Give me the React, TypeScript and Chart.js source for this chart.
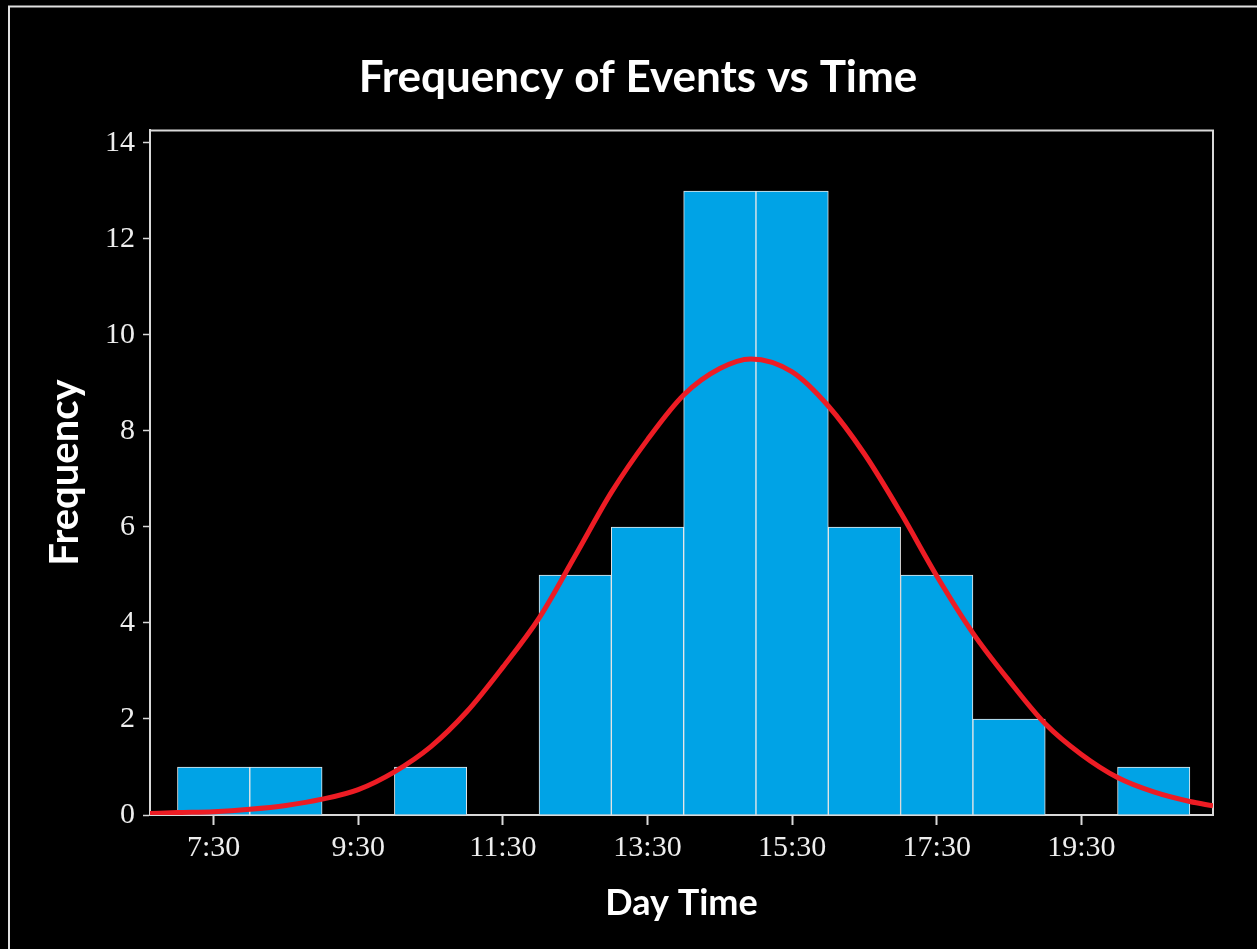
import React, { useEffect, useRef } from 'react';
import { Chart, registerables } from 'chart.js';

Chart.register(...registerables);

// Histogram bins (hour centres) and counts
const binCenters = [7.5, 8.5, 9.5, 10.5, 11.5, 12.5, 13.5, 14.5, 15.5, 16.5, 17.5, 18.5, 19.5, 20.5];
const binCounts = [1, 1, 0, 1, 0, 5, 6, 13, 13, 6, 5, 2, 0, 1];

// Fitted curve
const curveHours = [6.62, 7.0, 7.5, 8.0, 8.5, 9.0, 9.5, 10.0, 10.5, 11.0, 11.5, 12.0, 12.5, 13.0, 13.5, 14.0, 14.5, 14.93, 15.5, 16.0, 16.5, 17.0, 17.5, 18.0, 18.5, 19.0, 19.5, 20.0, 20.5, 21.0, 21.32];
const curveValues = [0.03, 0.05, 0.07, 0.12, 0.2, 0.33, 0.53, 0.9, 1.42, 2.15, 3.08, 4.1, 5.4, 6.72, 7.82, 8.75, 9.3, 9.5, 9.23, 8.52, 7.52, 6.3, 4.98, 3.79, 2.8, 1.9, 1.26, 0.78, 0.48, 0.28, 0.19];

// Axis ticks
const xTickValues = [7.5, 9.5, 11.5, 13.5, 15.5, 17.5, 19.5];
const xTickLabels = ['7:30', '9:30', '11:30', '13:30', '15:30', '17:30', '19:30'];
const yTickValues = [0, 2, 4, 6, 8, 10, 12, 14];

const TITLE = 'Frequency of Events vs Time';

const W = 1257;
const H = 949;
const LINE = '#D9D9D9';

const framePlugin = {
  id: 'frame',
  beforeDraw(chart: any) {
    const { ctx } = chart;
    ctx.save();
    ctx.fillStyle = '#000';
    ctx.fillRect(0, 0, chart.width, chart.height);
    ctx.strokeStyle = '#E0E0E0';
    ctx.lineWidth = 2;
    ctx.beginPath();
    ctx.moveTo(9, chart.height);
    ctx.lineTo(9, 6.5);
    ctx.lineTo(chart.width, 6.5);
    ctx.stroke();
    // chart title
    ctx.fillStyle = '#FFFFFF';
    ctx.font = 'bold 44px Lato';
    ctx.textAlign = 'center';
    ctx.textBaseline = 'alphabetic';
    ctx.fillText(TITLE, 638, 92);
    ctx.restore();
  },
  beforeDatasetsDraw(chart: any) {
    const { ctx, chartArea } = chart;
    ctx.save();
    ctx.strokeStyle = LINE;
    ctx.lineWidth = 2;
    ctx.beginPath();
    ctx.moveTo(chartArea.left, chartArea.top + 0.5);
    ctx.lineTo(chartArea.right, chartArea.top + 0.5);
    ctx.lineTo(chartArea.right, chartArea.bottom);
    ctx.stroke();
    ctx.restore();
  },
};

export default function App() {
  const ref = useRef<HTMLCanvasElement | null>(null);

  useEffect(() => {
    if (!ref.current) return;
    const chart = new Chart(ref.current, {
      type: 'bar',
      data: {
        datasets: [
          {
            type: 'line',
            data: curveHours.map((h, i) => ({ x: h, y: curveValues[i] })),
            borderColor: '#ED1C24',
            borderWidth: 5,
            pointRadius: 0,
            cubicInterpolationMode: 'monotone',
            fill: false,
            order: 0,
          } as any,
          {
            type: 'bar',
            data: binCenters.map((h, i) => ({ x: h, y: binCounts[i] })),
            backgroundColor: '#00A3E6',
            borderColor: '#E8E8E8',
            borderWidth: 1,
            barPercentage: 1,
            categoryPercentage: 1,
            order: 1,
          } as any,
        ],
      },
      options: {
        responsive: false,
        animation: false,
        devicePixelRatio: 1,
        layout: { padding: { left: 0, top: 130, right: 44, bottom: 0 } },
        plugins: {
          legend: { display: false },
          tooltip: { enabled: false },
          title: { display: false },
        },
        scales: {
          x: {
            type: 'linear',
            min: 6.62,
            max: 21.32,
            offset: false,
            afterBuildTicks: (scale: any) => {
              scale.ticks = xTickValues.map((v) => ({ value: v }));
            },
            afterFit: (scale: any) => {
              scale.height = H - 815;
            },
            ticks: {
              autoSkip: false,
              maxRotation: 0,
              color: '#EEEEEE',
              padding: 5,
              font: { family: 'Liberation Serif', size: 30 },
              callback: (value: any) => {
                const i = xTickValues.indexOf(Number(value));
                return i >= 0 ? xTickLabels[i] : '';
              },
            },
            grid: {
              display: true,
              offset: false,
              drawOnChartArea: false,
              drawTicks: true,
              tickLength: 10,
              tickColor: LINE,
              tickWidth: 2,
            },
            border: { display: true, color: LINE, width: 2 },
            title: {
              display: true,
              text: 'Day Time',
              color: '#FFFFFF',
              font: { family: 'Lato', weight: 'bold', size: 36, lineHeight: 1.2 },
              padding: { top: 0, bottom: 24 },
            },
          },
          y: {
            type: 'linear',
            min: 0,
            max: 14.27,
            afterBuildTicks: (scale: any) => {
              scale.ticks = yTickValues.map((v) => ({ value: v }));
            },
            afterFit: (scale: any) => {
              scale.width = 150;
            },
            ticks: {
              color: '#EEEEEE',
              padding: 8,
              font: { family: 'Liberation Serif', size: 30 },
            },
            grid: {
              display: true,
              offset: false,
              drawOnChartArea: false,
              drawTicks: true,
              tickLength: 7,
              tickColor: LINE,
              tickWidth: 1.5,
            },
            border: { display: true, color: LINE, width: 2 },
            title: {
              display: true,
              text: 'Frequency',
              color: '#FFFFFF',
              font: { family: 'Lato', weight: 'bold', size: 40, lineHeight: 1.2 },
              padding: { top: 41, bottom: 0 },
            },
          },
        },
      },
      plugins: [framePlugin],
    });
    return () => chart.destroy();
  }, []);

  return (
    <div style={{ position: 'fixed', left: 0, top: 0, width: W, height: H, background: '#000' }}>
      <canvas ref={ref} width={W} height={H} style={{ width: W, height: H, display: 'block' }} />
    </div>
  );
}
